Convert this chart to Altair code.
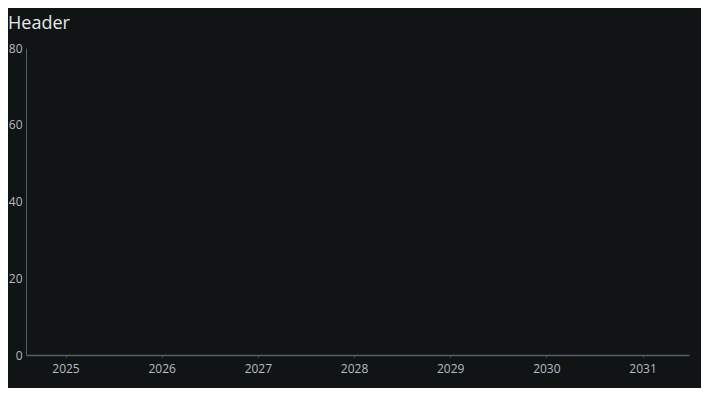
import altair as alt
import pandas as pd

years = ["2025", "2026", "2027", "2028", "2029", "2030", "2031"]
values = [None, None, None, None, None, None, None]
y_ticks = [0, 20, 40, 60, 80]
title_text = "Header"

df = pd.DataFrame({"year": years, "value": values})

bg = "#101415"
axis_col = "#55606b"
label_col = "#b4bcc4"
font = "Open Sans"

chart = alt.Chart(df).mark_bar(color="#4c8bf5").encode(
    x=alt.X("year:N", sort=years, title=None,
            scale=alt.Scale(domain=years, paddingInner=0.2, paddingOuter=0.047, align=0.17),
            axis=alt.Axis(labelAngle=0, labelColor=label_col, labelFont=font,
                          labelFontSize=12, domainColor=axis_col, domainWidth=1.5,
                          tickColor=axis_col, tickSize=2, labelPadding=6)),
    y=alt.Y("value:Q", title=None,
            scale=alt.Scale(domain=[0, 80]),
            axis=alt.Axis(values=y_ticks, grid=False, labelColor=label_col,
                          labelFont=font, labelFontSize=12, domainColor=axis_col,
                          domainWidth=1, ticks=False, labelPadding=4)),
).properties(
    width=663,
    height=307,
    title=alt.TitleParams(title_text, anchor="start", frame="group", dx=-18,
                          offset=9, font=font, fontSize=18, fontWeight="normal",
                          color="#e6e8ea"),
    background=bg,
    padding={"left": 18, "top": 40, "right": 12, "bottom": 33},
    autosize=alt.AutoSizeParams(type="none"),
).configure_view(stroke=None)

chart.save("out.html", embed_options={"renderer": "svg", "actions": False})
